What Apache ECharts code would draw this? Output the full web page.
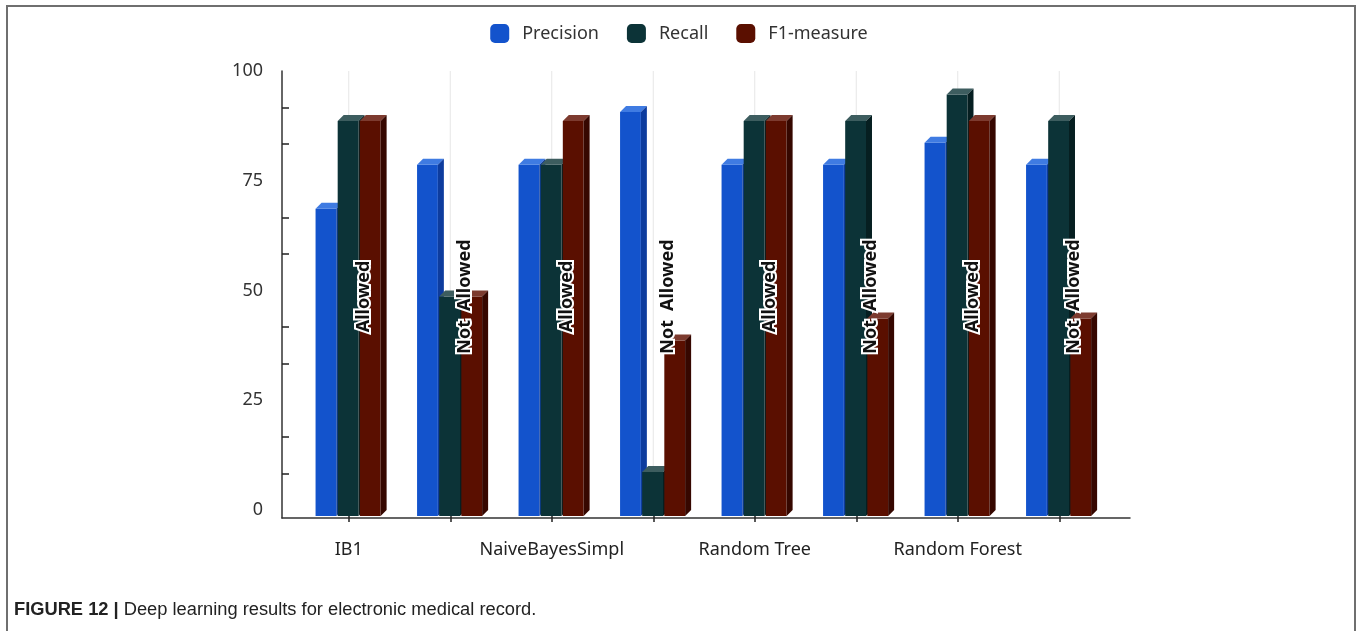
<!DOCTYPE html>
<html>
<head>
<meta charset="utf-8">
<title>Deep learning results for electronic medical record</title>
<script src="https://cdn.jsdelivr.net/npm/echarts@6/dist/echarts.min.js"></script>
<style>
  html, body { margin: 0; padding: 0; background: #ffffff; }
  #chart { width: 1358px; height: 631px; }
</style>
</head>
<body>
<div id="chart"></div>
<script>
// Classifier groups, each evaluated with the feature "Allowed" and "Not Allowed"
const groups = ['IB1', 'NaiveBayesSimpl', 'Random Tree', 'Random Forest'];
const modes = ['Allowed', 'Not Allowed'];

// Scores per category (group x mode, in order)
const precision = [70, 80, 80, 92, 80, 80, 85, 80];
const recall    = [90, 50, 80, 10, 90, 90, 96, 90];
const f1measure = [90, 50, 90, 40, 90, 45, 90, 45];

const seriesNames = ['Precision', 'Recall', 'F1-measure'];
const yTicks = { min: 0, max: 100, step: 25 };

// Derived category lists
const catGroup = [];
const catMode = [];
groups.forEach(g => modes.forEach(m => { catGroup.push(g); catMode.push(m); }));
const categories = catGroup.map((g, i) => g + ' / ' + catMode[i]);

// Face shades for the pseudo-3D bars: front, top cap, side
const shades = [
  { front: '#1353cc', top: '#3f7be2', side: '#0d3c9e' },
  { front: '#0c3337', top: '#3d5d5f', side: '#061f21' },
  { front: '#5a0f00', top: '#7d3b2f', side: '#360700' }
];

const FONT = '"Noto Sans", sans-serif';
const CAPTION_FONT = '"Liberation Sans", Arial, sans-serif';
const DEPTH = 6;

function makeBarRenderer(s) {
  return function (params, api) {
    const idx = api.value(0);
    const val = api.value(1);
    const topPt = api.coord([idx, val]);
    const basePt = api.coord([idx, 0]);
    const band = api.size([1, 0])[0];
    const w = band * 0.205;
    const step = band * 0.218;
    const cx = topPt[0];
    const left = cx - 1.5 * step + s * step;
    const yt = topPt[1];
    const yb = basePt[1];
    const d = DEPTH;
    const sh = shades[s];
    const cs = params.coordSys;
    const children = [];

    if (s === 0) {
      // faint vertical guide at the category centre, behind the bars
      children.push({
        type: 'line',
        shape: { x1: cx, y1: cs.y, x2: cx, y2: yb + d },
        style: { stroke: '#e6e6e6', lineWidth: 1 }
      });
    }
    children.push({
      type: 'rect',
      shape: { x: left, y: yt + d, width: w, height: yb - yt },
      style: { fill: sh.front }
    });
    children.push({
      type: 'polygon',
      shape: { points: [[left, yt + d], [left + d, yt], [left + w + d, yt], [left + w, yt + d]] },
      style: { fill: sh.top }
    });
    children.push({
      type: 'polygon',
      shape: { points: [[left + w, yt + d], [left + w + d, yt], [left + w + d, yb], [left + w, yb + d]] },
      style: { fill: sh.side }
    });
    if (s === 2) {
      // mode annotation, written vertically across the group
      children.push({
        type: 'text',
        x: cx + 15,
        y: cs.y + cs.height / 2 + d,
        rotation: Math.PI / 2,
        style: {
          text: catMode[idx].replace(' ', '\u2002'),
          fill: '#111111',
          stroke: '#ffffff',
          lineWidth: 4,
          fontSize: 18,
          fontWeight: 'bold',
          fontFamily: FONT,
          align: 'center',
          verticalAlign: 'middle'
        },
        z2: 100
      });
    }
    return { type: 'group', children: children };
  };
}

const valueSets = [precision, recall, f1measure];

const option = {
  backgroundColor: '#ffffff',
  animation: false,
  legend: {
    top: 19,
    left: 'center',
    icon: 'roundRect',
    itemWidth: 19,
    itemHeight: 19,
    itemGap: 28,
    data: seriesNames,
    textStyle: { fontSize: 18, color: '#333333', fontFamily: FONT, padding: [0, 0, 0, 8] }
  },
  grid: [
    { left: 298, right: 248, top: 71, bottom: 121 },
    { left: 282, right: 228, top: 71, bottom: 113 }
  ],
  xAxis: [
    {
      type: 'category',
      gridIndex: 0,
      data: categories,
      offset: 8,
      axisLine: { show: false },
      axisTick: { show: true, alignWithLabel: true, interval: 0, length: 12, lineStyle: { color: '#222', width: 1.5 } },
      axisLabel: {
        interval: 0,
        margin: 23,
        fontSize: 18,
        color: '#222222',
        fontFamily: FONT,
        formatter: (v, i) => (catMode[i] === modes[0] ? catGroup[i] : '')
      },
      splitLine: { show: false }
    },
    {
      type: 'value',
      gridIndex: 1,
      min: 0, max: 1,
      axisLine: { show: true, onZero: false, lineStyle: { color: '#333', width: 1.5 } },
      axisTick: { show: false },
      axisLabel: { show: false },
      splitLine: { show: false }
    }
  ],
  yAxis: [
    {
      type: 'value',
      gridIndex: 0,
      min: yTicks.min,
      max: yTicks.max,
      interval: yTicks.step,
      offset: 16,
      axisLine: { show: false },
      axisTick: { show: false, inside: true },
      minorTick: { show: true, splitNumber: 3, length: 7, lineStyle: { color: '#222', width: 1.5 } },
      axisLabel: { margin: 19, fontSize: 18, color: '#333333', fontFamily: FONT },
      splitLine: { show: false }
    },
    {
      type: 'value',
      gridIndex: 1,
      min: 0, max: 1,
      axisLine: { show: true, onZero: false, lineStyle: { color: '#333', width: 1.5 } },
      axisTick: { show: false },
      axisLabel: { show: false },
      splitLine: { show: false }
    }
  ],
  series: seriesNames.map((name, s) => ({
    name: name,
    type: 'custom',
    xAxisIndex: 0,
    yAxisIndex: 0,
    z: 2 + s,
    itemStyle: { color: shades[s].front },
    renderItem: makeBarRenderer(s),
    encode: { x: 0, y: 1 },
    data: valueSets[s].map((v, i) => [i, v])
  })),
  graphic: [
    {
      type: 'polyline',
      shape: { points: [[7, 631], [7, 6], [1355, 6], [1355, 631]] },
      style: { stroke: '#6f6f6f', lineWidth: 2, fill: null },
      silent: true
    },
    {
      type: 'text',
      left: 14,
      top: 601,
      style: {
        text: '{b|FIGURE 12 |} Deep learning results for electronic medical record.',
        rich: {
          b: { fontWeight: 'bold', fontSize: 18.3, fontFamily: CAPTION_FONT, fill: '#222222' }
        },
        fontSize: 18.3,
        fontFamily: CAPTION_FONT,
        fill: '#222222'
      }
    }
  ]
};

const chart = echarts.init(document.getElementById('chart'), null, { renderer: 'canvas' });
chart.setOption(option);
</script>
</body>
</html>
